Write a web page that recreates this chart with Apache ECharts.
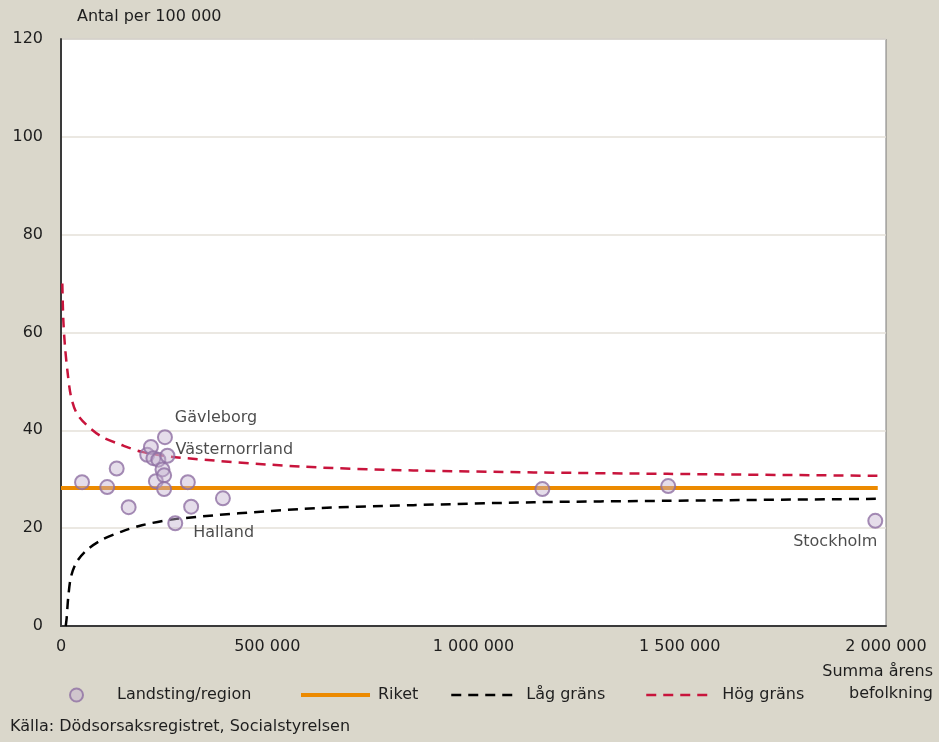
<!DOCTYPE html>
<html>
<head>
<meta charset="utf-8">
<title>Landsting/region</title>
<style type="text/css">
    html, body { margin: 0; padding: 0; background: #dad7cb; }
    #chart { width: 939px; height: 742px; }
</style>
<script src="https://cdn.jsdelivr.net/npm/echarts@6/dist/echarts.min.js"></script>
</head>
<body>
<div id="chart"></div>
<script>
    // landsting/region: befolkning och antal per 100 000
    var regionPop  = [51000, 112000, 135000, 164000, 209000, 218000, 224000, 230000, 236000, 246000, 250000, 250000, 252000, 258000, 277000, 307500, 315500, 392500, 1167000, 1472000, 1974000];
    var regionRate = [29.4, 28.4, 32.2, 24.3, 35.0, 36.6, 34.3, 29.6, 34.0, 32.0, 30.8, 28.0, 38.6, 34.8, 21.0, 29.4, 24.4, 26.1, 28.0, 28.6, 21.5];
    var regionName = ['', '', '', '', '', '', '', '', '', '', '', '', 'Gävleborg', 'Västernorrland', 'Halland', '', '', '', '', '', 'Stockholm'];

    // riket
    var riketRate = 28.2;
    var riketPop  = [0, 1980000];

    // gränser
    var highPop  = [3200, 5600, 9700, 16200, 24300, 38000, 62000, 98700, 147000, 196000, 277000, 580000, 854000, 1146000, 1470000, 1980000];
    var highRate = [70.0, 62.6, 57.1, 51.7, 46.9, 43.5, 41.1, 38.7, 37.0, 35.6, 34.5, 32.6, 31.8, 31.4, 31.1, 30.7];
    var lowPop   = [11500, 13700, 17700, 24300, 38000, 62000, 98700, 147000, 196000, 280000, 580000, 854000, 1146000, 1470000, 1980000];
    var lowRate  = [0, 1.6, 6.0, 10.1, 13.1, 15.5, 17.6, 19.3, 20.6, 21.9, 23.9, 24.7, 25.3, 25.6, 26.0];

    var yTicks = [0, 20, 40, 60, 80, 100, 120];

    var labelPos = {
        'Gävleborg':      { position: 'top', offset: [51, 2] },
        'Västernorrland': { position: 'right', offset: [-5, -6] },
        'Halland':        { position: 'right', offset: [5, 10] },
        'Stockholm':      { position: 'bottom', offset: [-40, 0] }
    };

    var font = 'DejaVu Sans';
    var fmt = function (v) {
        return String(v).replace(/\B(?=(\d{3})+(?!\d))/g, ' ');
    };

    var scatterData = regionPop.map(function (p, i) {
        var item = { value: [p, regionRate[i]], name: regionName[i] };
        if (regionName[i]) {
            var lp = labelPos[regionName[i]];
            item.label = {
                show: true, formatter: '{b}', position: lp.position, offset: lp.offset,
                color: '#1e1e1e', fontFamily: font, fontSize: 16
            };
        }
        return item;
    });

    var myChart = echarts.init(document.getElementById('chart'));
    var option = {
        backgroundColor: '#dad7cb',
        animation: false,
        textStyle: { fontFamily: font },
        grid: {
            left: 61, right: 53, top: 39, bottom: 116,
            show: true, backgroundColor: '#fff', borderColor: '#7a7a7a', borderWidth: 1
        },
        legend: [
            { data: ['Landsting/region'], left: 69, top: 687, padding: 0, itemWidth: 13, itemHeight: 13,
              textStyle: { fontSize: 16, color: '#1e1e1e', padding: [0, 0, 0, 29] } },
            { data: ['Riket'], left: 299, top: 687, padding: 0, itemWidth: 69, itemHeight: 14,
              itemStyle: { opacity: 0 }, lineStyle: { width: 4 },
              textStyle: { fontSize: 16, color: '#1e1e1e', padding: [0, 0, 0, 3] } },
            { data: ['Låg gräns'], left: 450, top: 687, padding: 0, itemWidth: 63, itemHeight: 14,
              itemStyle: { opacity: 0 }, lineStyle: { width: 2.5 },
              textStyle: { fontSize: 16, color: '#1e1e1e', padding: [0, 0, 0, 7] } },
            { data: ['Hög gräns'], left: 645, top: 687, padding: 0, itemWidth: 63, itemHeight: 14,
              itemStyle: { opacity: 0 }, lineStyle: { width: 2.5 },
              textStyle: { fontSize: 16, color: '#1e1e1e', padding: [0, 0, 0, 8] } }
        ],
        xAxis: {
            type: 'value', min: 0, max: 2000000, interval: 500000,
            axisLine: { lineStyle: { color: '#3a3a3a', width: 2 } },
            axisTick: { show: false },
            splitLine: { show: false },
            axisLabel: { color: '#1e1e1e', fontSize: 16, margin: 13, formatter: fmt }
        },
        yAxis: {
            type: 'value', min: yTicks[0], max: yTicks[yTicks.length - 1], interval: 20,
            name: 'Antal per 100 000',
            nameLocation: 'end', nameGap: 14,
            nameTextStyle: { color: '#1e1e1e', fontSize: 16, align: 'left', padding: [0, 0, 0, 16] },
            axisLine: { show: true, lineStyle: { color: '#3a3a3a', width: 2 } },
            axisTick: { show: false },
            splitLine: { lineStyle: { color: '#e4e1d9', width: 1.5 } },
            axisLabel: { color: '#1e1e1e', fontSize: 16, margin: 18 }
        },
        series: [
            {
                name: 'Riket', type: 'line', z: 3,
                data: riketPop.map(function (p) { return [p, riketRate]; }),
                showSymbol: false, symbol: 'none',
                lineStyle: { color: '#ec8a00', width: 4 },
                itemStyle: { color: '#ec8a00' }
            },
            {
                name: 'Låg gräns', type: 'line', z: 2, smooth: 0.3,
                data: lowPop.map(function (p, i) { return [p, lowRate[i]]; }),
                showSymbol: false, symbol: 'none',
                lineStyle: { color: '#000', width: 2.5, type: [10, 7] },
                itemStyle: { color: '#000' }
            },
            {
                name: 'Hög gräns', type: 'line', z: 2, smooth: 0.3,
                data: highPop.map(function (p, i) { return [p, highRate[i]]; }),
                showSymbol: false, symbol: 'none',
                lineStyle: { color: '#c8143c', width: 2.5, type: [10, 7] },
                itemStyle: { color: '#c8143c' }
            },
            {
                name: 'Landsting/region', type: 'scatter', z: 5,
                symbol: 'circle', symbolSize: 14,
                data: scatterData,
                itemStyle: { color: 'rgba(196,178,208,0.55)', borderColor: '#8e6fa3', borderWidth: 2 }
            }
        ],
        graphic: [
            { type: 'text', right: 6, top: 664,
              style: { text: 'Summa årens', font: '16px "DejaVu Sans"', fill: '#1e1e1e', textAlign: 'right' } },
            { type: 'text', right: 6, top: 686,
              style: { text: 'befolkning', font: '16px "DejaVu Sans"', fill: '#1e1e1e', textAlign: 'right' } },
            { type: 'text', left: 10, top: 719,
              style: { text: 'Källa: Dödsorsaksregistret, Socialstyrelsen', font: '16px "DejaVu Sans"', fill: '#1e1e1e' } }
        ]
    };
    myChart.setOption(option);
</script>
</body>
</html>
